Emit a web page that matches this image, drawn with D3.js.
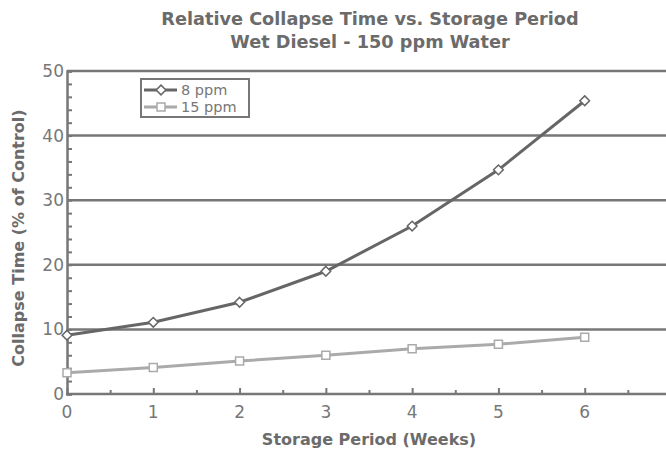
<!DOCTYPE html>
<html>
<head>
<meta charset="utf-8">
<script src="https://cdn.jsdelivr.net/npm/d3@7"></script>
<style>
  body { margin: 0; background: #fff; }
  svg { display: block; font-family: "DejaVu Sans", Verdana, sans-serif; }
</style>
</head>
<body>
<div id="chart"></div>
<script>
// Dados
const weeks = [0, 1, 2, 3, 4, 5, 6];
const ppm8 = [9.1, 11.1, 14.2, 19.0, 26.0, 34.7, 45.4];
const ppm15 = [3.3, 4.1, 5.1, 6.0, 7.0, 7.7, 8.8];
const seriesNames = ['8 ppm', '15 ppm'];
const yTicks = [0, 10, 20, 30, 40, 50];
const xTicks = [0, 1, 2, 3, 4, 5, 6];

const width = 666, height = 451;
const grey = '#777';

const svg = d3.select('#chart').append('svg')
  .attr('width', width)
  .attr('height', height);

// Escalas
const x = d3.scaleLinear().domain([0, 7]).range([67, 671]);
const y = d3.scaleLinear().domain([0, 50]).range([394, 71]);

// Títulos
const title = svg.append('text')
  .attr('text-anchor', 'middle')
  .attr('fill', '#6b6b6b')
  .attr('font-weight', 'bold')
  .attr('font-size', 17.7);
title.append('tspan').attr('x', 370).attr('y', 25).text('Relative Collapse Time vs. Storage Period');
title.append('tspan').attr('x', 370).attr('y', 48).text('Wet Diesel - 150 ppm Water');

// Linhas de grelha
svg.append('g').selectAll('line')
  .data(yTicks.filter(d => d > 0))
  .join('line')
  .attr('x1', x(0)).attr('x2', width)
  .attr('y1', d => y(d)).attr('y2', d => y(d))
  .attr('stroke', grey).attr('stroke-width', 2.5);

// Eixo Y
const yAxis = d3.axisRight(y).tickValues(d3.range(0, 51, 2)).tickSize(5).tickFormat('');
svg.append('g')
  .attr('transform', `translate(${x(0)},0)`)
  .call(yAxis)
  .call(g => g.select('.domain').attr('stroke', grey).attr('stroke-width', 2.5))
  .call(g => g.selectAll('.tick line').attr('stroke', grey).attr('stroke-width', 2));

svg.append('g').selectAll('text')
  .data(yTicks)
  .join('text')
  .attr('x', x(0) - 3)
  .attr('y', d => y(d) + 6)
  .attr('text-anchor', 'end')
  .attr('font-size', 17)
  .attr('fill', grey)
  .text(d => d);

// Eixo X
const xMinor = d3.axisTop(x).tickValues(d3.range(0.5, 7, 1)).tickSize(4).tickFormat('');
const xMajor = d3.axisTop(x).tickValues(xTicks).tickSize(6).tickFormat('');
svg.append('g')
  .attr('transform', `translate(0,${y(0)})`)
  .call(xMinor)
  .call(g => g.select('.domain').remove())
  .call(g => g.selectAll('.tick line').attr('stroke', grey).attr('stroke-width', 2));
svg.append('g')
  .attr('transform', `translate(0,${y(0)})`)
  .call(xMajor)
  .call(g => g.select('.domain').remove())
  .call(g => g.selectAll('.tick line').attr('stroke', grey).attr('stroke-width', 2));
svg.append('line')
  .attr('x1', x(0) - 1).attr('x2', width)
  .attr('y1', y(0)).attr('y2', y(0))
  .attr('stroke', grey).attr('stroke-width', 2.5);

svg.append('g').selectAll('text')
  .data(xTicks)
  .join('text')
  .attr('x', d => x(d))
  .attr('y', y(0) + 24)
  .attr('text-anchor', 'middle')
  .attr('font-size', 17)
  .attr('fill', grey)
  .text(d => d);

// Títulos dos eixos
svg.append('text')
  .attr('x', 369).attr('y', 445)
  .attr('text-anchor', 'middle')
  .attr('font-weight', 'bold')
  .attr('font-size', 16)
  .attr('fill', '#6b6b6b')
  .text('Storage Period (Weeks)');

svg.append('text')
  .attr('transform', 'translate(24,238) rotate(-90)')
  .attr('text-anchor', 'middle')
  .attr('font-weight', 'bold')
  .attr('font-size', 16)
  .attr('fill', '#6b6b6b')
  .text('Collapse Time (% of Control)');

// Séries
const line = d3.line().x((d, i) => x(weeks[i])).y(d => y(d));
const series = [
  { name: seriesNames[0], values: ppm8, color: '#666', shape: d3.symbolDiamond2, size: 60 },
  { name: seriesNames[1], values: ppm15, color: '#aaa', shape: d3.symbolSquare, size: 64 }
];

series.slice().reverse().forEach(s => {
  svg.append('path')
    .attr('d', line(s.values))
    .attr('fill', 'none')
    .attr('stroke', s.color)
    .attr('stroke-width', 3);
  svg.append('g').selectAll('path')
    .data(s.values)
    .join('path')
    .attr('transform', (d, i) => `translate(${x(weeks[i])},${y(d)})`)
    .attr('d', d3.symbol(s.shape, s.size))
    .attr('fill', '#fff')
    .attr('stroke', s.color)
    .attr('stroke-width', 1.5);
});

// Legenda
const legend = svg.append('g').attr('transform', 'translate(141,79)');
legend.append('rect')
  .attr('width', 108).attr('height', 38)
  .attr('fill', '#fff')
  .attr('stroke', grey).attr('stroke-width', 2);
series.forEach((s, i) => {
  const ly = 11 + i * 17;
  legend.append('line')
    .attr('x1', 3).attr('x2', 36).attr('y1', ly).attr('y2', ly)
    .attr('stroke', s.color).attr('stroke-width', 3);
  legend.append('path')
    .attr('transform', `translate(20,${ly})`)
    .attr('d', d3.symbol(s.shape, s.size)())
    .attr('fill', '#fff')
    .attr('stroke', s.color)
    .attr('stroke-width', 1.5);
  legend.append('text')
    .attr('x', 40).attr('y', ly + 5)
    .attr('font-size', 14.5)
    .attr('fill', grey)
    .text(s.name);
});
</script>
</body>
</html>
